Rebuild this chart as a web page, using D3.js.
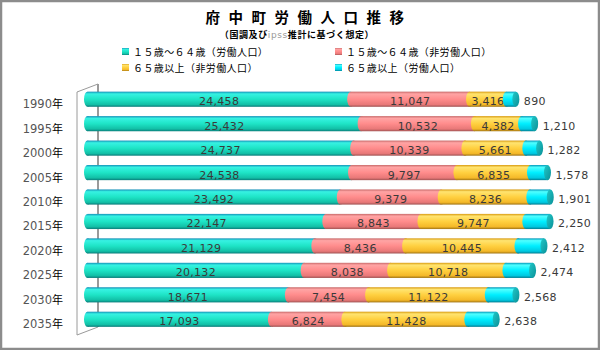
<!DOCTYPE html>
<html>
<head>
<meta charset="utf-8">
<script src="https://d3js.org/d3.v7.min.js"></script>
<style>
  body { margin: 0; background: #fff; }
  svg { display: block; }
  .val { font-family: "DejaVu Sans", sans-serif; font-size: 11px; fill: #3a3a3a; }
  .yr { font-family: "DejaVu Sans", sans-serif; font-size: 11.5px; fill: #555; }
  .jp { font-family: "Noto Sans CJK JP", sans-serif; }
</style>
</head>
<body>
<div id="chart"></div>
<script>
let years = ["1990", "1995", "2000", "2005", "2010", "2015", "2020", "2025", "2030", "2035"];
let work15 = [24458, 25432, 24737, 24538, 23492, 22147, 21129, 20132, 18671, 17093];
let nonwork15 = [11047, 10532, 10339, 9797, 9379, 8843, 8436, 8038, 7454, 6824];
let nonwork65 = [3416, 4382, 5661, 6835, 8236, 9747, 10445, 10718, 11122, 11428];
let work65 = [890, 1210, 1282, 1578, 1901, 2250, 2412, 2474, 2568, 2638];
let seriesNames = ["１５歳～６４歳（労働人口）", "１５歳～６４歳（非労働人口）", "６５歳以上（非労働人口）", "６５歳以上（労働人口）"];

let width = 600, height = 350;
let svg = d3.select('#chart').append('svg').attr('width', width).attr('height', height);

// gradients for the cylinder look
let grads = [
    {id: 'g0', stops: ['#1590b8', '#36f2e2', '#1ee4c6', '#12bfa6', '#0a7c7a']},
    {id: 'g1', stops: ['#c86a6a', '#ffa4a4', '#ff8c8c', '#e87878', '#a05454']},
    {id: 'g2', stops: ['#d89a10', '#ffe470', '#ffd040', '#f4b828', '#a07414']},
    {id: 'g3', stops: ['#0096b8', '#50ffff', '#00eeff', '#00c8e0', '#007c90']}
];
let defs = svg.append('defs');
grads.forEach(function(g){
    let lg = defs.append('linearGradient').attr('id', g.id).attr('x1', 0).attr('y1', 0).attr('x2', 0).attr('y2', 1);
    [0, 0.15, 0.5, 0.85, 1].forEach(function(o, i){
        lg.append('stop').attr('offset', o).attr('stop-color', g.stops[i]);
    });
});
let capGrad = defs.append('linearGradient').attr('id', 'cap').attr('x1', 0).attr('y1', 0).attr('x2', 1).attr('y2', 1);
capGrad.append('stop').attr('offset', 0).attr('stop-color', '#20c8c8');
capGrad.append('stop').attr('offset', 1).attr('stop-color', '#0a9098');

// frame
svg.append('rect').attr('x', 1).attr('y', 1).attr('width', width - 2).attr('height', height - 2)
    .attr('fill', '#fff').attr('stroke', '#8c8c8c').attr('stroke-width', 2.5);

// titles
svg.append('text').attr('class', 'jp').attr('x', 309).attr('y', 22.5).attr('text-anchor', 'middle')
    .attr('font-size', 14.5).attr('font-weight', 'bold').attr('letter-spacing', 8.5).text('府中町労働人口推移');
let sub = svg.append('text').attr('class', 'jp').attr('x', 297).attr('y', 37.5).attr('text-anchor', 'middle')
    .attr('font-size', 9).attr('font-weight', 'bold').attr('letter-spacing', 0.6);
sub.append('tspan').text('（国調及び');
sub.append('tspan').attr('fill', '#999').attr('font-weight', 'normal').attr('font-family', 'DejaVu Sans').text('ipss');
sub.append('tspan').text('推計に基づく想定）');

// legend
let legendPos = [[122, 54], [335, 54], [122, 70], [335, 70]];
seriesNames.forEach(function(name, i){
    let g = svg.append('g').attr('transform', 'translate(' + legendPos[i][0] + ',' + legendPos[i][1] + ')');
    g.append('rect').attr('x', 0).attr('y', -6).attr('width', 7).attr('height', 7).attr('fill', 'url(#g' + i + ')');
    g.append('text').attr('class', 'jp').attr('x', 11).attr('y', 1.5).attr('font-size', 10)
        .attr('letter-spacing', 0.4).text(name);
});

let x = d3.scaleLinear().domain([0, 45000]).range([87.5, 571.7]);
let y = d3.scaleBand().domain(years).range([87, 331.5]).paddingInner(0.38).paddingOuter(0.19);
let bh = y.bandwidth();

// 3d wall lines
let wall = svg.append('g').attr('stroke', '#9a9a9a').attr('fill', 'none');
wall.append('path').attr('d', 'M77,92 L98,84 M77,92 L77,335 L98,327').attr('stroke-width', 1);
wall.append('line').attr('x1', 98).attr('y1', 84).attr('x2', 98).attr('y2', 327).attr('stroke-width', 2);

let series = [work15, nonwork15, nonwork65, work65];
let rx = 3.5;

years.forEach(function(yr, i){
    let y0 = y(yr);
    let g = svg.append('g');
    let start = 0;
    series.forEach(function(s, k){
        let v = s[i];
        let x0 = x(start), x1 = x(start + v);
        g.append('rect').attr('x', x0).attr('y', y0).attr('width', x1 - x0).attr('height', bh)
            .attr('fill', 'url(#g' + k + ')');
        g.append('ellipse').attr('cx', x0).attr('cy', y0 + bh / 2).attr('rx', rx).attr('ry', bh / 2)
            .attr('fill', 'url(#g' + k + ')');
        if (k < 3) {
            g.append('text').attr('class', 'val').attr('x', (x0 + x1) / 2).attr('y', y0 + bh / 2 + 6)
                .attr('text-anchor', 'middle').attr('letter-spacing', 0.3).text(d3.format(',')(v));
        }
        start += v;
    });
    let xe = x(start);
    g.append('ellipse').attr('cx', xe).attr('cy', y0 + bh / 2).attr('rx', rx).attr('ry', bh / 2)
        .attr('fill', 'url(#cap)');
    g.append('text').attr('class', 'val').attr('x', xe + 8).attr('y', y0 + bh / 2 + 6)
        .attr('fill', '#555').attr('letter-spacing', 0.3).text(d3.format(',')(work65[i]));

    // year label
    let t = svg.append('text').attr('class', 'yr').attr('x', 63).attr('y', y0 + bh / 2 + 9).attr('text-anchor', 'end');
    t.append('tspan').text(yr);
    t.append('tspan').attr('class', 'jp').attr('fill', '#000').attr('font-size', 11).text('年');
});
</script>
</body>
</html>
